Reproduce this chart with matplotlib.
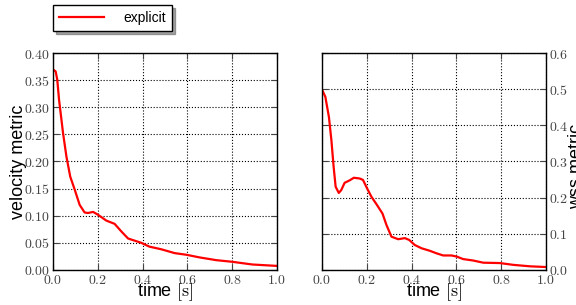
import matplotlib
matplotlib.use("Agg")
import matplotlib.pyplot as plt
from matplotlib.ticker import FuncFormatter, MultipleLocator

plt.rcParams['mathtext.fontset'] = 'cm'
plt.rcParams['font.family'] = ['Liberation Sans', 'DejaVu Sans']

# velocity metric
t_vel = [0.0, 0.012, 0.019, 0.027, 0.045, 0.06, 0.077, 0.097, 0.119, 0.141, 0.156, 0.179,
         0.2, 0.238, 0.275, 0.305, 0.335, 0.357, 0.394, 0.43, 0.484, 0.543, 0.595, 0.655,
         0.729, 0.80, 0.89, 1.0]
vel = [0.370, 0.366, 0.351, 0.314, 0.252, 0.209, 0.172, 0.148, 0.120, 0.106, 0.105, 0.107,
       0.102, 0.091, 0.085, 0.071, 0.058, 0.055, 0.050, 0.043, 0.038, 0.031, 0.028, 0.023,
       0.018, 0.015, 0.010, 0.0074]

# wss metric
t_wss = [0.0, 0.015, 0.031, 0.042, 0.052, 0.061, 0.075, 0.086, 0.101, 0.124, 0.142, 0.168,
         0.183, 0.201, 0.221, 0.243, 0.270, 0.288, 0.310, 0.340, 0.370, 0.389, 0.414, 0.444,
         0.481, 0.511, 0.541, 0.578, 0.601, 0.630, 0.675, 0.720, 0.794, 0.854, 0.928, 1.0]
wss = [0.499, 0.479, 0.423, 0.359, 0.285, 0.230, 0.213, 0.221, 0.241, 0.248, 0.255, 0.253,
       0.249, 0.226, 0.202, 0.182, 0.156, 0.124, 0.092, 0.085, 0.088, 0.083, 0.069, 0.060,
       0.053, 0.046, 0.040, 0.040, 0.037, 0.030, 0.026, 0.020, 0.019, 0.014, 0.010, 0.008]

series_label = "explicit"

fig = plt.figure(figsize=(5.76, 3.05), dpi=100)
ax1 = fig.add_axes([0.092, 0.115, 0.389, 0.711])
ax2 = fig.add_axes([0.559, 0.115, 0.389, 0.711])

line, = ax1.plot(t_vel, vel, color='red', lw=1.6)
ax2.plot(t_wss, wss, color='red', lw=1.6)

def fmt(dec):
    return FuncFormatter(lambda v, p: r'$%.*f$' % (dec, v))

for ax in (ax1, ax2):
    ax.set_xlim(0, 1)
    ax.xaxis.set_major_locator(MultipleLocator(0.2))
    ax.xaxis.set_major_formatter(fmt(1))
    ax.grid(True, color='black', linestyle=':', linewidth=0.8)
    ax.tick_params(direction='in', length=4, pad=2, labelsize=10, colors='#444444',
                   top=True, right=True)
    for s in ax.spines.values():
        s.set_linewidth(1.0)
        s.set_color('black')
    ax.set_xlabel(r'time $[\mathrm{s}]$', fontsize=13, labelpad=-4)

ax1.set_ylim(0, 0.4)
ax1.yaxis.set_major_locator(MultipleLocator(0.05))
ax1.yaxis.set_major_formatter(fmt(2))
ax1.set_ylabel('velocity metric', fontsize=13, va='center', ha='center')
ax1.yaxis.set_label_coords(-0.152, 0.5)

ax2.set_ylim(0, 0.6)
ax2.yaxis.set_major_locator(MultipleLocator(0.1))
ax2.yaxis.set_major_formatter(fmt(1))
ax2.yaxis.tick_right()
ax2.tick_params(left=True, labelleft=False, labelright=True)
ax2.yaxis.set_label_position('right')
ax2.set_ylabel('wss metric', fontsize=13, rotation=90, va='center', ha='center')
ax2.yaxis.set_label_coords(1.134, 0.475)

leg = fig.legend([line], [series_label], loc='upper left', bbox_to_anchor=(0.092, 0.984),
                 borderaxespad=0, fontsize=10, handlelength=3.2, handletextpad=1.4,
                 borderpad=0.45, fancybox=False, shadow=True, framealpha=1)
leg.get_frame().set_edgecolor('black')

fig.savefig('out.png', dpi=100)
